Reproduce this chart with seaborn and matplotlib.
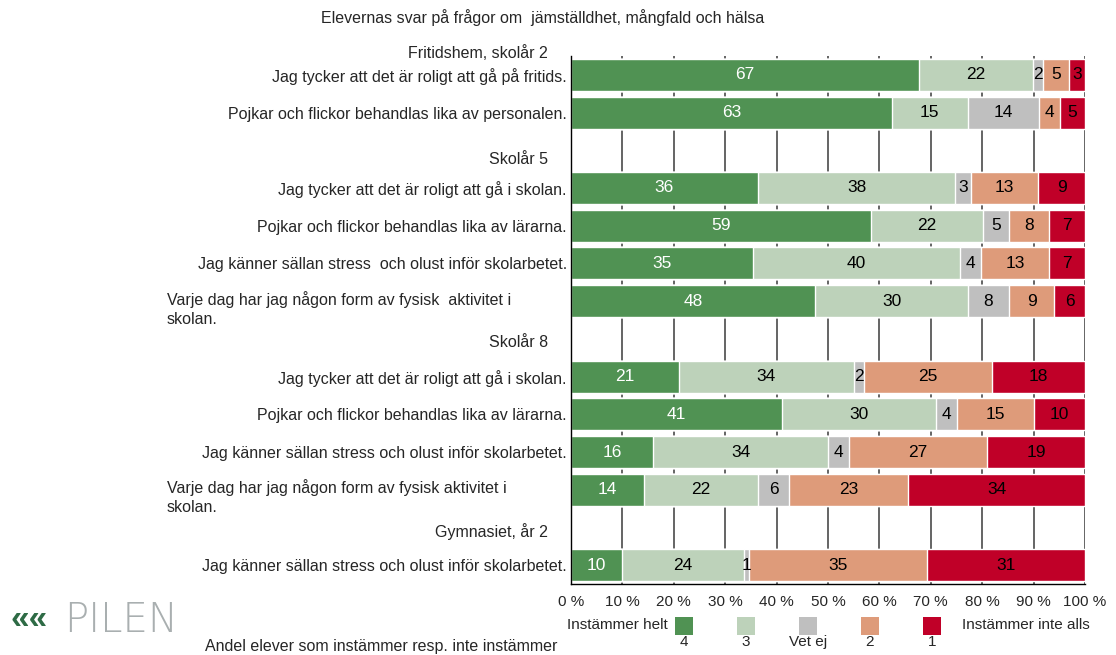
import matplotlib
matplotlib.use("Agg")
import matplotlib.pyplot as plt
from matplotlib.patches import Rectangle
import matplotlib.transforms as mtransforms
import seaborn as sns
import pandas as pd
import numpy as np

# --- data (rows top to bottom; None = section gap row) ---
questions = [
    "Jag tycker att det är roligt att gå på fritids.",
    "Pojkar och flickor behandlas lika av personalen.",
    None,
    "Jag tycker att det är roligt att gå i skolan.",
    "Pojkar och flickor behandlas lika av lärarna.",
    "Jag känner sällan stress  och olust inför skolarbetet.",
    "Varje dag har jag någon form av fysisk  aktivitet i\nskolan.",
    None,
    "Jag tycker att det är roligt att gå i skolan.",
    "Pojkar och flickor behandlas lika av lärarna.",
    "Jag känner sällan stress och olust inför skolarbetet.",
    "Varje dag har jag någon form av fysisk aktivitet i\nskolan.",
    None,
    "Jag känner sällan stress och olust inför skolarbetet.",
]
svar4 = [67, 63, None, 36, 59, 35, 48, None, 21, 41, 16, 14, None, 10]
svar3 = [22, 15, None, 38, 22, 40, 30, None, 34, 30, 34, 22, None, 24]
vet_ej = [2, 14, None, 3, 5, 4, 8, None, 2, 4, 4, 6, None, 1]
svar2 = [5, 4, None, 13, 8, 13, 9, None, 25, 15, 27, 23, None, 35]
svar1 = [3, 5, None, 9, 7, 7, 6, None, 18, 10, 19, 34, None, 31]

headers = ["Fritidshem, skolår 2", "Skolår 5", "Skolår 8", "Gymnasiet, år 2"]
header_pos = [-0.58, 2.25, 7.1, 12.12]

legend_labels = ["4", "3", "Vet ej", "2", "1"]
colors = ["#509253", "#BDD2BA", "#BFBFBF", "#DE9B7A", "#C00028"]
text_colors = ["white", "black", "black", "black", "black"]

# --- frame ---
ids = [f"r{i}" for i in range(len(questions))]
df = pd.DataFrame({"id": ids, "4": svar4, "3": svar3, "Vet ej": vet_ej,
                   "2": svar2, "1": svar1}, dtype=object)
cols = ["4", "3", "Vet ej", "2", "1"]
vals = df[cols].astype(float)
share = vals.div(vals.sum(axis=1), axis=0)
cum = share.cumsum(axis=1)

sns.set_style("white")
plt.rcParams["font.family"] = ["Liberation Sans", "DejaVu Sans"]
FS = 11.5

fig = plt.figure(figsize=(11.16, 6.55), dpi=100)
ax = fig.add_axes([571 / 1116, 1 - 584 / 655, 514 / 1116, 528 / 655])

for x in np.arange(0.1, 1.01, 0.1):
    ax.axvline(x, color="#3a3a3a", lw=1.1, zorder=0)

# stacked bars: draw cumulative layers from longest to shortest
for k in range(len(cols) - 1, -1, -1):
    layer = pd.DataFrame({"id": ids, "x": cum[cols[k]]}).dropna()
    sns.barplot(data=layer, x="x", y="id", order=ids, orient="h",
                color=colors[k], saturation=1, width=0.85, ax=ax, zorder=2)

# segment labels
for i in range(len(ids)):
    if questions[i] is None:
        continue
    start = 0.0
    for k, c in enumerate(cols):
        w = share.loc[i, c]
        ax.text(start + w / 2, i, str(int(vals.loc[i, c])), ha="center",
                va="center", color=text_colors[k], fontsize=12.5, zorder=3)
        start += w

ax.set_xlim(0, 1)
ax.set_ylim(len(ids) - 0.5, -0.5)
ax.set_xlabel("")
ax.set_ylabel("")
ax.set_xticks(np.arange(0, 1.01, 0.1))
ax.set_xticklabels([f"{int(round(t * 100))} %" for t in np.arange(0, 1.01, 0.1)],
                   fontsize=11)
ax.tick_params(axis="x", direction="out", length=4, width=1, color="black", pad=4)

ax.set_yticks(range(len(ids)))
ylabels = [q if (q is not None and "\n" not in q) else "" for q in questions]
ax.set_yticklabels(ylabels, fontsize=FS)
ax.tick_params(axis="y", length=0, pad=3)
ax.set_yticks(np.arange(-0.5, len(ids), 1), minor=True)
ax.tick_params(axis="y", which="minor", direction="out", length=4, width=1, color="black")

for s in ["top", "right"]:
    ax.spines[s].set_visible(False)
for s in ["left", "bottom"]:
    ax.spines[s].set_color("black")
    ax.spines[s].set_linewidth(1)

# wrapped labels (left aligned block)
fig_x_data_y = mtransforms.blended_transform_factory(fig.transFigure, ax.transData)
for i, q in enumerate(questions):
    if q is not None and "\n" in q:
        ax.text(167 / 1116, i - 0.27, q, transform=fig_x_data_y, ha="left", va="top",
                fontsize=FS, linespacing=1.3)

# section headers
axes_x_data_y = mtransforms.blended_transform_factory(ax.transAxes, ax.transData)
for h, p in zip(headers, header_pos):
    ax.text(-23 / 514, p, h, transform=axes_x_data_y, ha="right", va="center",
            fontsize=FS, clip_on=False)

# title
fig.text(543 / 1116, 1 - 18 / 655, "Elevernas svar på frågor om  jämställdhet, mångfald och hälsa",
         ha="center", va="center", fontsize=FS)

# legend
sq = 18
for k, lab in enumerate(legend_labels):
    cx = 684 + 62 * k
    fig.patches.append(Rectangle(((cx - sq / 2) / 1116, 1 - (626 + sq / 2) / 655),
                                 sq / 1116, sq / 655, transform=fig.transFigure,
                                 facecolor=colors[k], edgecolor="none"))
    fig.text(cx / 1116, 1 - 642 / 655, lab, ha="center", va="center", fontsize=11)
fig.text(668 / 1116, 1 - 625 / 655, "Instämmer helt", ha="right", va="center", fontsize=11)
fig.text(962 / 1116, 1 - 625 / 655, "Instämmer inte alls", ha="left", va="center", fontsize=11)

fig.text(557 / 1116, 1 - 646 / 655, "Andel elever som instämmer resp. inte instämmer",
         ha="right", va="center", fontsize=FS)

# logo
fig.text(10 / 1116, 1 - 620 / 655, "««", ha="left", va="center", fontsize=24,
         color="#2E6B45", fontweight="bold")
fig.text(64 / 1116, 1 - 620 / 655, "PILEN", ha="left", va="center", fontsize=29,
         color="#A9AFB0", fontweight="light", family="DejaVu Sans")

fig.savefig("out.png", dpi=100)
